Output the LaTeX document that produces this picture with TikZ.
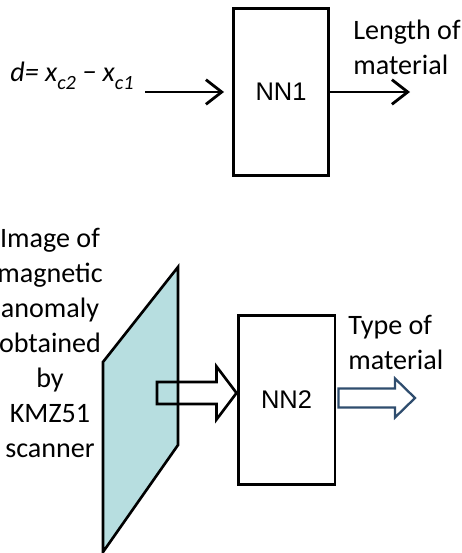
\documentclass[tikz,border=0pt]{standalone}
\usepackage{fontspec}
\setmainfont{Carlito}
\newfontfamily\arialfont{Liberation Sans}
\usepackage{tikz}
\usetikzlibrary{positioning,arrows.meta,calc}
\definecolor{panel}{HTML}{B7DEE0}
\definecolor{outblue}{HTML}{2F4D6E}
\newcommand{\lowsub}[1]{\raisebox{-4pt}{\fontsize{11.5}{11.5}\selectfont #1}}

\begin{document}
\begin{tikzpicture}[x=0.02cm,y=-0.02cm,
  font=\fontsize{16}{19.9}\selectfont,
  nnbox/.style={draw,line width=1.7pt,minimum width=1.9cm,minimum height=3.36cm,
    inner sep=0pt,font=\arialfont\fontsize{14.5}{16}\selectfont},
  txt/.style={inner sep=0pt},
  thinarrow/.style={line width=1.6pt,-{Straight Barb[length=9pt,width=14pt]}},
  fatarrow/.style={line width=1.5pt,line join=miter}]
\useasboundingbox (0,0) rectangle (461,553);

% Top part: distance -> NN1 -> length
\node[nnbox] (nn1) at (281,92) {NN1};
\node[txt,anchor=base west] (dist) at (10,82)
  {\itshape d= x\lowsub{c2} − x\lowsub{c1}};
\node[txt,anchor=west,align=left] (lenlabel) at (353,47) {Length of\\material};
\coordinate (din) at (145,92);
\coordinate (lenout) at (410,92);
\draw[thinarrow,shorten >=0.16cm] (din) -- (nn1.west);
\draw[thinarrow] (nn1.east) -- (lenout);

% Bottom part: scanner image -> NN2 -> type
\fill[panel] (103,362) -- (178,267) -- (178,445) -- (103,552) -- cycle;
\draw[line width=1.5pt,line join=miter] (103,362) -- (178,267) -- (178,445) -- (103,552) -- cycle;
\node[txt,align=center] (scanlabel) at (50,343)
  {Image of\\magnetic\\anomaly\\obtained\\by\\KMZ51\\scanner};
\node[nnbox,minimum width=1.94cm,minimum height=3.4cm] (nn2) at (286.5,400) {NN2};
\node[txt,anchor=west,align=left] (typelabel) at (348,342.5) {Type of\\material};

% Block arrow into NN2
\coordinate (scanin) at (157,393);
\coordinate (tipA) at ($(nn2.west)+(0,-7)$);
\draw[fatarrow] ($(scanin)+(0,-11)$) -- ($(tipA)+(-20,-11)$) -- ($(tipA)+(-20,-26.5)$)
  -- (tipA) -- ($(tipA)+(-20,26.5)$) -- ($(tipA)+(-20,11)$) -- ($(scanin)+(0,11)$) -- cycle;

% Block arrow out of NN2
\coordinate (typein) at ($(nn2.east)+(2,-2)$);
\coordinate (typeout) at (415,398);
\draw[fatarrow,draw=outblue,fill=white,line width=1.3pt]
  ($(typein)+(0,-9.5)$) -- ($(typeout)+(-20,-9.5)$) -- ($(typeout)+(-20,-19.5)$)
  -- (typeout) -- ($(typeout)+(-20,19.5)$) -- ($(typeout)+(-20,9.5)$) -- ($(typein)+(0,9.5)$) -- cycle;

\end{tikzpicture}
\end{document}
